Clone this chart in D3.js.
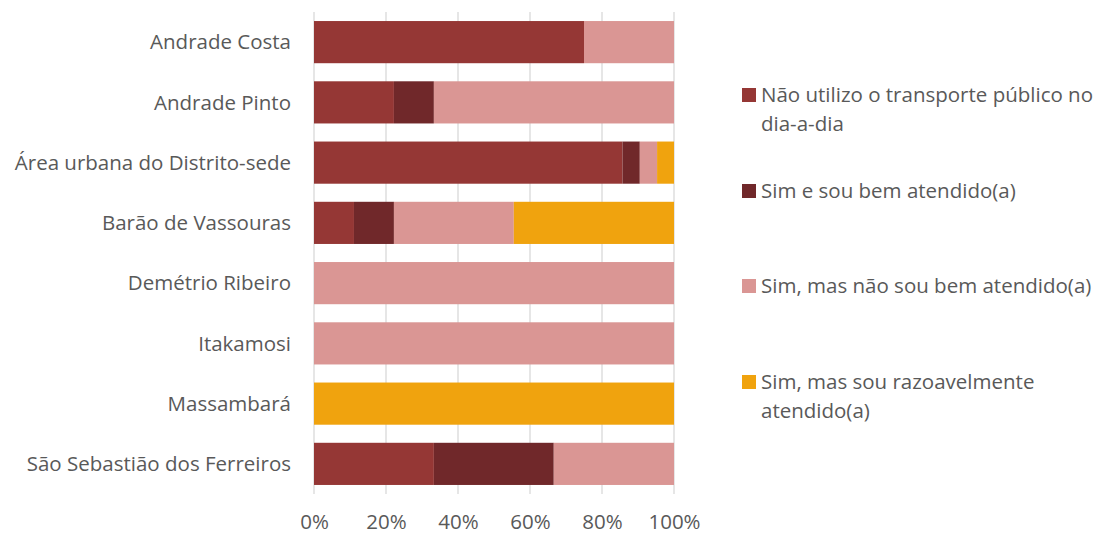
<!DOCTYPE html>
<html><head><meta charset="utf-8">
<script src="https://cdn.jsdelivr.net/npm/d3@7"></script>
<style>body{margin:0;background:#fff}svg{display:block}text{font-family:"Open Sans",sans-serif;fill:#595959}</style>
</head><body><svg id="c" width="1099" height="535"></svg>
<script>
const categories = ["Andrade Costa","Andrade Pinto","Área urbana do Distrito-sede","Barão de Vassouras","Demétrio Ribeiro","Itakamosi","Massambará","São Sebastião dos Ferreiros"];
const seriesNames = ["Não utilizo o transporte público no dia-a-dia","Sim e sou bem atendido(a)","Sim, mas não sou bem atendido(a)","Sim, mas sou razoavelmente atendido(a)"];
const naoUtilizo = [75, 22.2, 85.7, 11.1, 0, 0, 0, 33.3];
const bemAtendido = [0, 11.1, 4.8, 11.1, 0, 0, 0, 33.3];
const naoBemAtendido = [25, 66.7, 4.8, 33.3, 100, 100, 0, 33.4];
const razoavelmente = [0, 0, 4.7, 44.5, 0, 0, 100, 0];
const tickLabels = ["0%","20%","40%","60%","80%","100%"];
const colors = ["#953735","#70282a","#da9694","#f0a30e"];
const legendLines = [["Não utilizo o transporte público no","dia-a-dia"],["Sim e sou bem atendido(a)"],["Sim, mas não sou bem atendido(a)"],["Sim, mas sou razoavelmente","atendido(a)"]];

const FS = 20.5;
const svg = d3.select("#c");
const x = d3.scaleLinear().domain([0,1]).range([314,674]);
const y = d3.scaleBand().domain(categories).range([12,494]).paddingInner(0.3).paddingOuter(0.15);
const seriesVals = [naoUtilizo, bemAtendido, naoBemAtendido, razoavelmente];
const rows = categories.map((c,i)=>{const o={cat:c}; seriesNames.forEach((s,j)=>o[s]=seriesVals[j][i]); return o;});
const stack = d3.stack().keys(seriesNames).offset(d3.stackOffsetExpand)(rows);

svg.append("g").selectAll("line").data(d3.range(0,1.01,0.2)).join("line")
  .attr("x1",d=>x(d)).attr("x2",d=>x(d)).attr("y1",12).attr("y2",494)
  .attr("stroke","#d9d9d9").attr("stroke-width",1.3);

svg.append("g").selectAll("g").data(stack).join("g").attr("fill",(d,i)=>colors[i])
  .selectAll("rect").data(d=>d).join("rect")
  .attr("x",d=>x(d[0])).attr("width",d=>x(d[1])-x(d[0]))
  .attr("y",d=>y(d.data.cat)).attr("height",y.bandwidth());

svg.append("g").selectAll("text").data(categories).join("text")
  .attr("x",291).attr("y",d=>y(d)+y.bandwidth()/2).attr("dy","0.35em")
  .attr("text-anchor","end").attr("font-size",FS).text(d=>d);

const xa = svg.append("g").attr("transform","translate(0,494)").call(d3.axisBottom(x).tickValues(d3.range(0,1.01,0.2)).tickFormat((d,i)=>tickLabels[i]).tickSize(0).tickPadding(20));
xa.select(".domain").remove();
xa.selectAll("text").attr("font-size",FS).attr("fill","#595959").attr("font-family","Open Sans");

const ly = [95,191,286,382];
const lg = svg.append("g").selectAll("g").data(seriesNames).join("g").attr("transform",(d,i)=>`translate(742,${ly[i]})`);
lg.append("rect").attr("x",0).attr("y",-7).attr("width",14).attr("height",14).attr("fill",(d,i)=>colors[i]);
lg.append("text").attr("font-size",FS)
  .selectAll("tspan").data((d,i)=>legendLines[i]).join("tspan")
  .attr("x",19).attr("dy",(d,k)=>k===0?"0.35em":"29px").text(d=>d);
</script></body></html>
